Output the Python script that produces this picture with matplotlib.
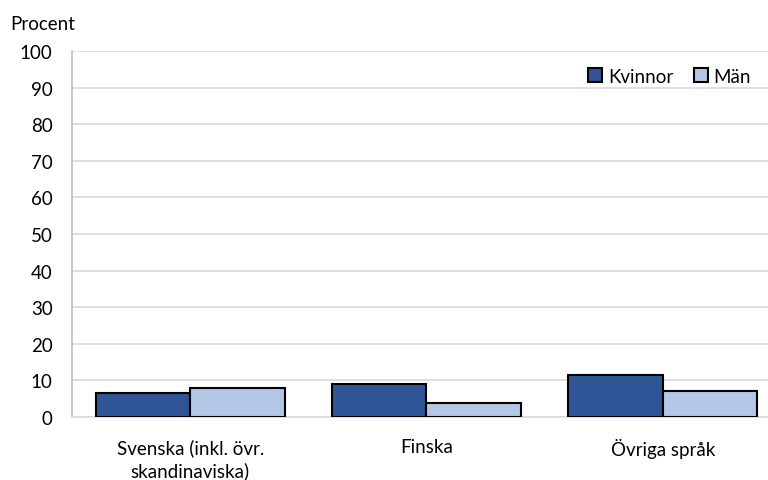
import matplotlib.pyplot as plt
import numpy as np

# andel per språk och kön, procent
sprak = ["Svenska (inkl. övr.\nskandinaviska)", "Finska", "Övriga språk"]
kvinnor = [6.5, 9.1, 11.6]
man = [7.9, 3.8, 7.1]
yticks = list(range(0, 101, 10))

plt.rcParams['font.family'] = ['Lato', 'DejaVu Sans']

fig = plt.figure(figsize=(7.68, 4.81), dpi=100)
ax = fig.add_axes([72/768, 1 - 418/481, 1 - 72/768, (418 - 52)/481])

x = np.arange(len(sprak))
b = 0.4
ax.bar(x - b/2, kvinnor, b, color="#2F5597", edgecolor="black", linewidth=1.5,
       label="Kvinnor", zorder=3)
ax.bar(x + b/2, man, b, color="#B4C7E7", edgecolor="black", linewidth=1.5,
       label="Män", zorder=3)

ax.set_ylim(0, 100)
ax.set_xlim(-0.5, 2.445)
ax.set_yticks(yticks)
ax.set_xticks(x)
ax.set_xticklabels(sprak, fontsize=13.5, linespacing=1.35)
ax.tick_params(axis="y", labelsize=13.5, length=0, pad=14)
ax.tick_params(axis="x", length=0, pad=15)

ax.grid(axis="y", color="#d9d9d9", linewidth=1.2, zorder=0)
for s in ["top", "right"]:
    ax.spines[s].set_visible(False)
ax.spines["left"].set_color("#bfbfbf")
ax.spines["left"].set_linewidth(1.2)
ax.spines["bottom"].set_color("#d9d9d9")
ax.spines["bottom"].set_linewidth(1.2)

fig.text(10/768, 1 - 25/481, "Procent", fontsize=13.5, va="center", ha="left")

ax.legend(loc="upper right", bbox_to_anchor=(1.0, 1.0), frameon=False,
          ncol=2, fontsize=13.5, handlelength=0.75, handleheight=0.75,
          handletextpad=0.3, columnspacing=1.1)

plt.savefig("out.png", dpi=100)
